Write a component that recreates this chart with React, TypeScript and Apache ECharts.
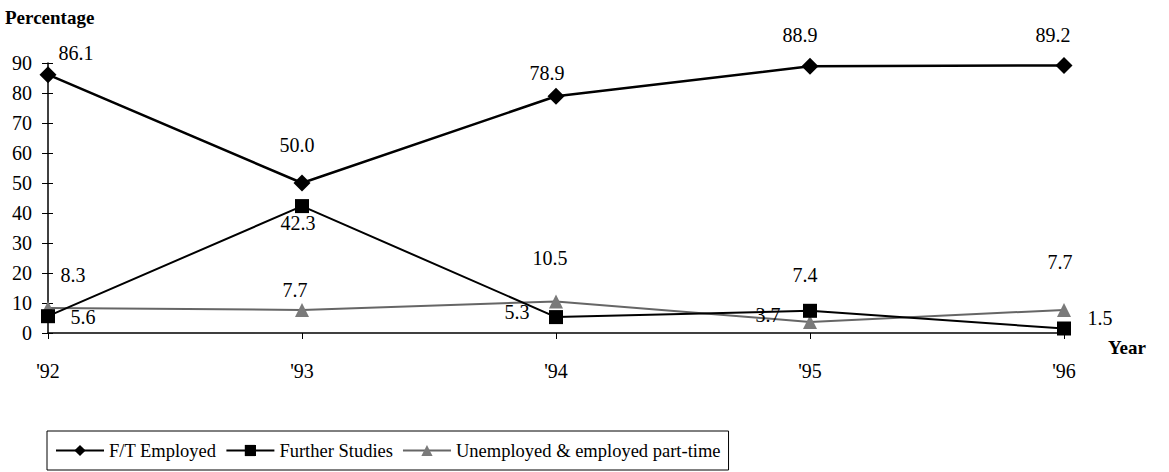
import React, { useEffect, useRef } from "react";
import * as echarts from "echarts";

const years = ["'92", "'93", "'94", "'95", "'96"];
const ftEmployed = [86.1, 50.0, 78.9, 88.9, 89.2];
const furtherStudies = [5.6, 42.3, 5.3, 7.4, 1.5];
const unemployed = [8.3, 7.7, 10.5, 3.7, 7.7];
const yTicks = [0, 10, 20, 30, 40, 50, 60, 70, 80, 90];

// label offsets (styling only), relative to each point
const ftOffsets = [[28, -22], [-5, -38], [-9, -23], [-10, -31], [-11, -30]];
const fsOffsets = [[35, 1], [-4, 17], [-39, -5], [-5, -36], [36, -11]];
const unOffsets = [[25, -33], [-7, -20], [-6, -44], [-42, -7], [-4, -48]];

const FONT = "Liberation Serif";

function mk(values: number[], offsets: number[][]) {
  return values.map((v, i) => ({
    value: v,
    label: { offset: offsets[i] },
  }));
}

export default function App() {
  const ref = useRef<HTMLDivElement>(null);
  useEffect(() => {
    if (!ref.current) return;
    const chart = echarts.init(ref.current, undefined, { renderer: "svg" });
    const labelBase = {
      show: true,
      position: "inside",
      color: "#000",
      fontFamily: FONT,
      fontSize: 20,
      formatter: (p: any) => Number(p.value).toFixed(1),
    };
    chart.setOption({
      animation: false,
      backgroundColor: "#fff",
      textStyle: { fontFamily: FONT },
      grid: { left: 48, right: 105, top: 63, bottom: 139, containLabel: false },
      xAxis: {
        type: "category",
        data: years,
        boundaryGap: false,
        axisLine: { lineStyle: { color: "#000", width: 1.5 } },
        axisTick: { show: true, length: 6, lineStyle: { color: "#000" } },
        axisLabel: { color: "#000", fontFamily: FONT, fontSize: 20, margin: 28 },
        splitLine: { show: false },
      },
      yAxis: [
        {
          type: "value",
          min: 0,
          max: 90,
          interval: 10,
          axisLine: { show: true, lineStyle: { color: "#000", width: 1.5 } },
          axisTick: { show: true, length: 6, lineStyle: { color: "#000" } },
          axisLabel: {
            color: "#000",
            fontFamily: FONT,
            fontSize: 20,
            margin: 16,
            formatter: (v: number) => (yTicks.includes(v) ? String(v) : ""),
          },
          splitLine: { show: false },
        },
        {
          type: "value",
          min: 0,
          max: 90,
          interval: 10,
          position: "left",
          axisLine: { show: false },
          axisTick: { show: true, inside: true, length: 5, lineStyle: { color: "#000" } },
          axisLabel: { show: false },
          splitLine: { show: false },
        },
      ],
      legend: {
        left: 47,
        top: 431,
        orient: "horizontal",
        borderColor: "#000",
        borderWidth: 1,
        padding: [10, 8, 10, 8],
        itemGap: 9,
        itemWidth: 48,
        itemHeight: 14,
        textStyle: { color: "#000", fontFamily: FONT, fontSize: 18.5 },
        data: ["F/T Employed", "Further Studies", "Unemployed & employed part-time"],
      },
      graphic: [
        {
          type: "text",
          left: 5,
          top: 8,
          style: { text: "Percentage", font: "bold 19px 'Liberation Serif'", fill: "#000" },
        },
        {
          type: "text",
          left: 1108,
          top: 338,
          style: { text: "Year", font: "bold 19px 'Liberation Serif'", fill: "#000" },
        },
      ],
      series: [
        {
          name: "F/T Employed",
          type: "line",
          data: mk(ftEmployed, ftOffsets),
          symbol: "diamond",
          symbolSize: [17, 17],
          itemStyle: { color: "#000" },
          lineStyle: { color: "#000", width: 2.5 },
          label: labelBase,
          z: 3,
        },
        {
          name: "Further Studies",
          type: "line",
          data: mk(furtherStudies, fsOffsets),
          symbol: "rect",
          symbolSize: 14,
          itemStyle: { color: "#000" },
          lineStyle: { color: "#000", width: 2 },
          label: labelBase,
          z: 2,
        },
        {
          name: "Unemployed & employed part-time",
          type: "line",
          data: mk(unemployed, unOffsets),
          symbol: "triangle",
          symbolSize: 14,
          itemStyle: { color: "#7a7a7a" },
          lineStyle: { color: "#666", width: 2 },
          label: labelBase,
          z: 1,
        },
      ],
    });
    return () => chart.dispose();
  }, []);
  return <div ref={ref} style={{ width: 1169, height: 472, position: "absolute", left: 0, top: 0 }} />;
}
